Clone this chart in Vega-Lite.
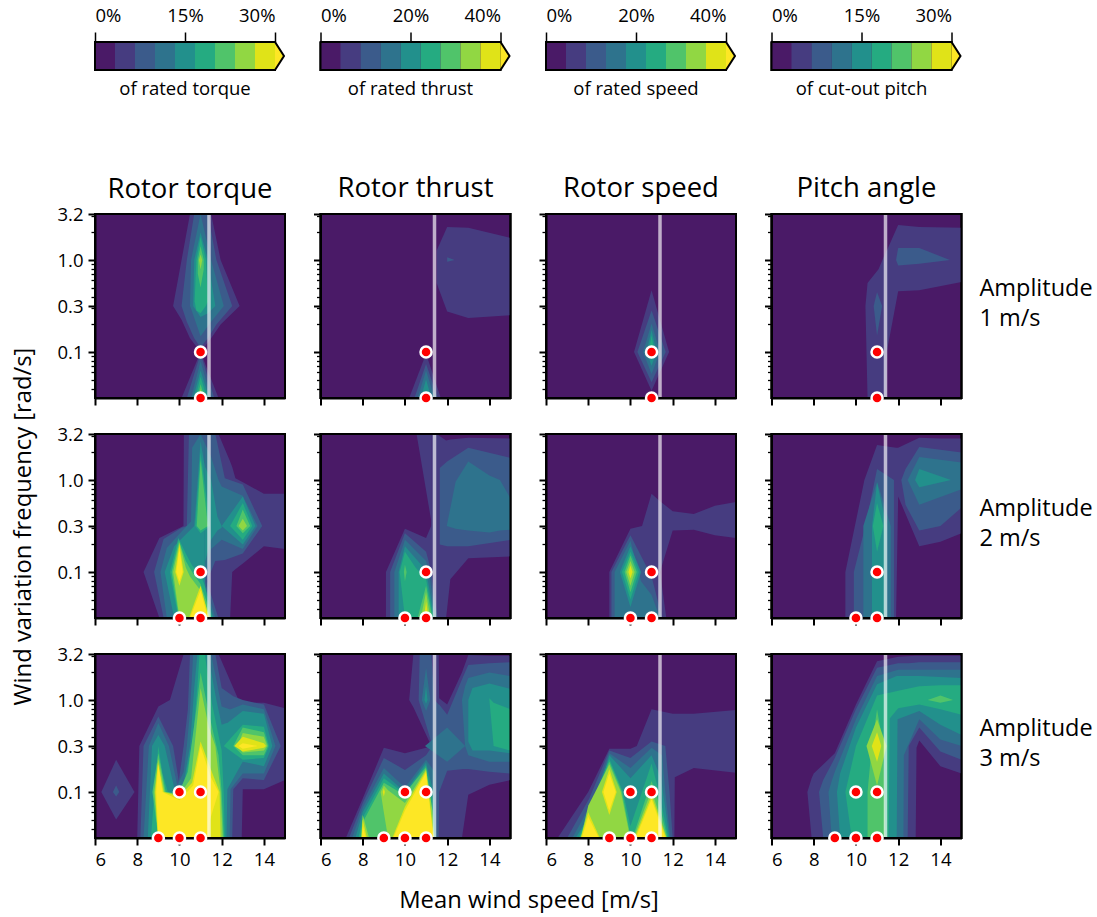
{"$schema":"https://vega.github.io/schema/vega-lite/v6.json","background":"white","padding":{"left":10,"top":5,"right":0,"bottom":0},"config":{"font":"Open Sans","view":{"fill":"#4a1a67","stroke":"black","strokeWidth":2},"axis":{"grid":false,"domainColor":"black","domainWidth":2,"tickColor":"black","labelColor":"black","labelFont":"Open Sans","labelFontSize":18.5,"labelPadding":5,"titleFont":"Open Sans","titleFontSize":23.8,"titleFontWeight":"normal","titleColor":"black"},"title":{"font":"Open Sans","fontSize":27.5,"fontWeight":"normal","color":"black","offset":10},"text":{"font":"Open Sans"}},
"datasets":{
"r":[{"x":11.4,"y":-1.5,"y2":0.5}],"f":[{"x":6,"x2":15,"y":-1.5,"y2":0.5}],
"a1":[{"x":15.85,"y":-0.315,"t":["Amplitude","1 m/s"]}],"a2":[{"x":15.85,"y":-0.315,"t":["Amplitude","2 m/s"]}],"a3":[{"x":15.85,"y":-0.315,"t":["Amplitude","3 m/s"]}],
"d1":[{"x":11,"y":-1},{"x":11,"y":-1.5}],
"d2":[{"x":11,"y":-1},{"x":10,"y":-1.5},{"x":11,"y":-1.5}],
"d3":[{"x":10,"y":-1},{"x":11,"y":-1},{"x":9,"y":-1.5},{"x":10,"y":-1.5},{"x":11,"y":-1.5}],
"cb":[{"l":0,"f":0,"g":1},{"l":1,"f":1,"g":2},{"l":2,"f":2,"g":3},{"l":3,"f":3,"g":4},{"l":4,"f":4,"g":5},{"l":5,"f":5,"g":6},{"l":6,"f":6,"g":7},{"l":7,"f":7,"g":8},{"l":8,"f":8,"g":9}],
"ct":[{"x":9,"y":0,"y2":1},{"x":9.45,"y":0.5,"y2":0.5}],
"co":[{"o":1,"x":0,"y":1},{"o":2,"x":9,"y":1},{"o":3,"x":9.45,"y":0.5},{"o":4,"x":9,"y":0},{"o":5,"x":0,"y":0},{"o":6,"x":0,"y":1}],
"P11":[{"l":1,"s":1,"x":9.7,"y":-0.5,"y2":-0.5},{"l":1,"s":1,"x":10.1,"y":-0.65,"y2":0},{"l":1,"s":1,"x":10.5,"y":-0.85,"y2":0.5},{"l":1,"s":1,"x":11,"y":-1,"y2":0.5},{"l":1,"s":1,"x":11.5,"y":-0.85,"y2":0.5},{"l":1,"s":1,"x":11.95,"y":-0.7,"y2":0},{"l":1,"s":1,"x":12.85,"y":-0.5,"y2":-0.5},
{"l":1,"s":2,"x":10.1,"y":-1.5,"y2":-1.5},{"l":1,"s":2,"x":11,"y":-1.5,"y2":-1},{"l":1,"s":2,"x":11.85,"y":-1.5,"y2":-1.5},
{"l":2,"s":1,"x":10.1,"y":-0.5,"y2":-0.5},{"l":2,"s":1,"x":10.35,"y":-0.67,"y2":0},{"l":2,"s":1,"x":10.7,"y":-0.85,"y2":0.5},{"l":2,"s":1,"x":11,"y":-0.95,"y2":0.5},{"l":2,"s":1,"x":11.35,"y":-0.85,"y2":0.5},{"l":2,"s":1,"x":11.75,"y":-0.7,"y2":0},{"l":2,"s":1,"x":12.5,"y":-0.5,"y2":-0.5},
{"l":2,"s":2,"x":10.35,"y":-1.5,"y2":-1.5},{"l":2,"s":2,"x":11,"y":-1.5,"y2":-1.02},{"l":2,"s":2,"x":11.65,"y":-1.5,"y2":-1.5},
{"l":3,"s":1,"x":10.5,"y":-0.5,"y2":-0.5},{"l":3,"s":1,"x":10.55,"y":-0.53,"y2":0},{"l":3,"s":1,"x":11,"y":-0.83,"y2":0.5},{"l":3,"s":1,"x":11.5,"y":-0.67,"y2":0},{"l":3,"s":1,"x":12.1,"y":-0.5,"y2":-0.5},
{"l":3,"s":2,"x":10.55,"y":-1.5,"y2":-1.5},{"l":3,"s":2,"x":11,"y":-1.5,"y2":-1.1},{"l":3,"s":2,"x":11.5,"y":-1.5,"y2":-1.5},
{"l":4,"s":1,"x":10.65,"y":-0.5,"y2":-0.5},{"l":4,"s":1,"x":10.7,"y":-0.52,"y2":0},{"l":4,"s":1,"x":11,"y":-0.62,"y2":0.3},{"l":4,"s":1,"x":11.35,"y":-0.58,"y2":0},{"l":4,"s":1,"x":11.7,"y":-0.5,"y2":-0.5},
{"l":4,"s":2,"x":10.65,"y":-1.5,"y2":-1.5},{"l":4,"s":2,"x":11,"y":-1.5,"y2":-1.2},{"l":4,"s":2,"x":11.4,"y":-1.5,"y2":-1.5},
{"l":5,"s":1,"x":10.72,"y":-0.45,"y2":-0.45},{"l":5,"s":1,"x":10.8,"y":-0.55,"y2":0},{"l":5,"s":1,"x":11,"y":-0.58,"y2":0.25},{"l":5,"s":1,"x":11.25,"y":-0.5,"y2":0},{"l":5,"s":1,"x":11.35,"y":-0.45,"y2":-0.45},
{"l":5,"s":2,"x":10.75,"y":-1.5,"y2":-1.5},{"l":5,"s":2,"x":11,"y":-1.5,"y2":-1.27},{"l":5,"s":2,"x":11.3,"y":-1.5,"y2":-1.5},
{"l":6,"s":1,"x":10.87,"y":-0.15,"y2":0},{"l":6,"s":1,"x":11,"y":-0.3,"y2":0.15},{"l":6,"s":1,"x":11.15,"y":-0.1,"y2":0},
{"l":6,"s":2,"x":10.85,"y":-1.5,"y2":-1.5},{"l":6,"s":2,"x":11,"y":-1.5,"y2":-1.35},{"l":6,"s":2,"x":11.2,"y":-1.5,"y2":-1.5},
{"l":7,"s":1,"x":10.92,"y":0,"y2":0},{"l":7,"s":1,"x":11,"y":-0.1,"y2":0.06},{"l":7,"s":1,"x":11.08,"y":0,"y2":0},
{"l":7,"s":2,"x":10.9,"y":-1.5,"y2":-1.5},{"l":7,"s":2,"x":11,"y":-1.5,"y2":-1.4},{"l":7,"s":2,"x":11.1,"y":-1.5,"y2":-1.5}],
"P12":[{"l":1,"s":1,"x":11.5,"y":-0.25,"y2":0.1},{"l":1,"s":1,"x":12,"y":-0.56,"y2":0.36},{"l":1,"s":1,"x":13,"y":-0.63,"y2":0.35},{"l":1,"s":1,"x":15,"y":-0.6,"y2":0.24},
{"l":1,"s":2,"x":10.2,"y":-1.5,"y2":-1.5},{"l":1,"s":2,"x":11,"y":-1.5,"y2":-1.02},{"l":1,"s":2,"x":11.7,"y":-1.5,"y2":-1.5},
{"l":2,"s":1,"x":12,"y":-0.02,"y2":0.03},{"l":2,"s":1,"x":12.35,"y":0,"y2":0},
{"l":2,"s":2,"x":10.45,"y":-1.5,"y2":-1.5},{"l":2,"s":2,"x":11,"y":-1.5,"y2":-1.13},{"l":2,"s":2,"x":11.55,"y":-1.5,"y2":-1.5},
{"l":3,"x":10.6,"y":-1.5,"y2":-1.5},{"l":3,"x":11,"y":-1.5,"y2":-1.2},{"l":3,"x":11.4,"y":-1.5,"y2":-1.5},
{"l":4,"x":10.75,"y":-1.5,"y2":-1.5},{"l":4,"x":11,"y":-1.5,"y2":-1.3},{"l":4,"x":11.25,"y":-1.5,"y2":-1.5},
{"l":5,"x":10.9,"y":-1.5,"y2":-1.5},{"l":5,"x":11,"y":-1.5,"y2":-1.42},{"l":5,"x":11.1,"y":-1.5,"y2":-1.5}],
"P13":[{"l":1,"x":10.17,"y":-1,"y2":-1},{"l":1,"x":11,"y":-1.42,"y2":-0.33},{"l":1,"x":11.83,"y":-1,"y2":-1},
{"l":2,"x":10.33,"y":-1,"y2":-1},{"l":2,"x":11,"y":-1.33,"y2":-0.55},{"l":2,"x":11.67,"y":-1,"y2":-1},
{"l":3,"x":10.6,"y":-1,"y2":-1},{"l":3,"x":11,"y":-1.24,"y2":-0.69},{"l":3,"x":11.4,"y":-1,"y2":-1},
{"l":4,"x":10.76,"y":-1,"y2":-1},{"l":4,"x":11,"y":-1.15,"y2":-0.76},{"l":4,"x":11.24,"y":-1,"y2":-1},
{"l":5,"x":10.87,"y":-1,"y2":-1},{"l":5,"x":11,"y":-1.07,"y2":-0.82},{"l":5,"x":11.13,"y":-1,"y2":-1}],
"P14":[{"l":1,"x":10.45,"y":-0.5,"y2":-0.5},{"l":1,"x":10.55,"y":-1.5,"y2":-0.25},{"l":1,"x":11.07,"y":-1.5,"y2":-0.1},{"l":1,"x":11.44,"y":-1.5,"y2":0.1},{"l":1,"x":11.46,"y":-1,"y2":0.1},{"l":1,"x":12,"y":-0.34,"y2":0.38},{"l":1,"x":13,"y":-0.33,"y2":0.36},{"l":1,"x":15,"y":-0.24,"y2":0.35},
{"l":2,"s":1,"x":10.84,"y":-0.5,"y2":-0.5},{"l":2,"s":1,"x":11,"y":-0.82,"y2":-0.35},{"l":2,"s":1,"x":11.24,"y":-0.5,"y2":-0.5},
{"l":2,"s":2,"x":11.9,"y":0,"y2":0},{"l":2,"s":2,"x":12,"y":-0.06,"y2":0.13},{"l":2,"s":2,"x":13,"y":-0.04,"y2":0.13},{"l":2,"s":2,"x":14.45,"y":0,"y2":0}],
"P21":[{"l":1,"x":8.3,"y":-1,"y2":-1},{"l":1,"x":9.05,"y":-1.5,"y2":-0.63},{"l":1,"x":10.19,"y":-1.5,"y2":-0.5},{"l":1,"x":10.21,"y":-1.5,"y2":0.5},{"l":1,"x":11.85,"y":-1.5,"y2":0.5},{"l":1,"x":12.4,"y":-1.5,"y2":0.2},{"l":1,"x":12.5,"y":-1,"y2":0.14},{"l":1,"x":12.65,"y":-0.97,"y2":0.02},{"l":1,"x":13.05,"y":-0.9,"y2":-0.03},{"l":1,"x":14,"y":-0.72,"y2":-0.15},{"l":1,"x":15,"y":-0.75,"y2":-0.15},
{"l":2,"s":1,"x":8.8,"y":-1,"y2":-1},{"l":2,"s":1,"x":9.25,"y":-1.5,"y2":-0.64},{"l":2,"s":1,"x":10.1,"y":-1.5,"y2":-0.52},{"l":2,"s":1,"x":10.35,"y":-1.5,"y2":-0.5},{"l":2,"s":1,"x":10.45,"y":-1.5,"y2":0.5},{"l":2,"s":1,"x":11.3,"y":-1.5,"y2":0.5},
{"l":2,"s":2,"x":11.3,"y":-1.5,"y2":-1.1},{"l":2,"s":2,"x":11.84,"y":-1.5,"y2":-1.5},
{"l":2,"s":3,"x":11.3,"y":-1.1,"y2":0.5},{"l":2,"s":3,"x":11.7,"y":-0.88,"y2":0.5},{"l":2,"s":3,"x":12.15,"y":-0.87,"y2":0.02},{"l":2,"s":3,"x":13,"y":-0.8,"y2":-0.05},{"l":2,"s":3,"x":13.92,"y":-0.5,"y2":-0.5},
{"l":3,"s":1,"x":9.1,"y":-1,"y2":-1},{"l":3,"s":1,"x":9.4,"y":-1.5,"y2":-0.74},{"l":3,"s":1,"x":10.1,"y":-1.5,"y2":-0.56},{"l":3,"s":1,"x":10.55,"y":-1.5,"y2":-0.45},{"l":3,"s":1,"x":10.6,"y":-1.5,"y2":0.35},{"l":3,"s":1,"x":11,"y":-1.5,"y2":0.5},{"l":3,"s":1,"x":11.2,"y":-1.5,"y2":0.4},
{"l":3,"s":2,"x":11.2,"y":-1.5,"y2":-1.1},{"l":3,"s":2,"x":11.7,"y":-1.5,"y2":-1.5},
{"l":3,"s":3,"x":11.2,"y":-1.1,"y2":0.4},{"l":3,"s":3,"x":11.5,"y":-0.75,"y2":0.25},{"l":3,"s":3,"x":11.85,"y":-0.68,"y2":0},{"l":3,"s":3,"x":12,"y":-0.65,"y2":-0.07},{"l":3,"s":3,"x":13,"y":-0.75,"y2":-0.17},{"l":3,"s":3,"x":13.7,"y":-0.5,"y2":-0.5},
{"l":4,"s":1,"x":9.3,"y":-1,"y2":-1},{"l":4,"s":1,"x":9.75,"y":-1.5,"y2":-0.72},{"l":4,"s":1,"x":10,"y":-1.5,"y2":-0.66},{"l":4,"s":1,"x":10.7,"y":-1.5,"y2":-0.5},{"l":4,"s":1,"x":10.8,"y":-1.5,"y2":-0.2},{"l":4,"s":1,"x":11,"y":-1.5,"y2":0.42},{"l":4,"s":1,"x":11.2,"y":-1.5,"y2":0.15},
{"l":4,"s":2,"x":11.2,"y":-1.5,"y2":-1.15},{"l":4,"s":2,"x":11.6,"y":-1.5,"y2":-1.5},
{"l":4,"s":3,"x":11.2,"y":-0.9,"y2":0.15},{"l":4,"s":3,"x":11.5,"y":-0.65,"y2":0},{"l":4,"s":3,"x":11.8,"y":-0.55,"y2":-0.4},{"l":4,"s":3,"x":12,"y":-0.52,"y2":-0.5},
{"l":4,"s":4,"x":12,"y":-0.5,"y2":-0.5},{"l":4,"s":4,"x":13,"y":-0.7,"y2":-0.18},{"l":4,"s":4,"x":13.6,"y":-0.5,"y2":-0.5},
{"l":5,"s":1,"x":9.55,"y":-1,"y2":-1},{"l":5,"s":1,"x":9.95,"y":-1.5,"y2":-0.63},{"l":5,"s":1,"x":10.3,"y":-1.5,"y2":-0.8},{"l":5,"s":1,"x":10.6,"y":-1.5,"y2":-0.93},{"l":5,"s":1,"x":11,"y":-1.5,"y2":-1.03},{"l":5,"s":1,"x":11.2,"y":-1.5,"y2":-1.15},{"l":5,"s":1,"x":11.55,"y":-1.5,"y2":-1.5},
{"l":5,"s":2,"x":10.75,"y":-0.5,"y2":-0.5},{"l":5,"s":2,"x":11,"y":-0.58,"y2":0.3},{"l":5,"s":2,"x":11.45,"y":-0.5,"y2":-0.5},
{"l":5,"s":3,"x":12.4,"y":-0.5,"y2":-0.5},{"l":5,"s":3,"x":13,"y":-0.65,"y2":-0.25},{"l":5,"s":3,"x":13.45,"y":-0.5,"y2":-0.5},
{"l":6,"s":1,"x":9.63,"y":-1,"y2":-1},{"l":6,"s":1,"x":9.98,"y":-1.5,"y2":-0.66},{"l":6,"s":1,"x":10.3,"y":-1.5,"y2":-0.88},{"l":6,"s":1,"x":10.6,"y":-1.5,"y2":-1},{"l":6,"s":1,"x":11,"y":-1.5,"y2":-1.13},{"l":6,"s":1,"x":11.3,"y":-1.5,"y2":-1.33},{"l":6,"s":1,"x":11.5,"y":-1.5,"y2":-1.5},
{"l":6,"s":2,"x":10.82,"y":-0.5,"y2":-0.5},{"l":6,"s":2,"x":11,"y":-0.55,"y2":0.22},{"l":6,"s":2,"x":11.35,"y":-0.5,"y2":-0.5},
{"l":6,"s":3,"x":12.7,"y":-0.5,"y2":-0.5},{"l":6,"s":3,"x":13,"y":-0.58,"y2":-0.32},{"l":6,"s":3,"x":13.35,"y":-0.5,"y2":-0.5},
{"l":7,"s":1,"x":9.7,"y":-1,"y2":-1},{"l":7,"s":1,"x":10,"y":-1.5,"y2":-0.68},{"l":7,"s":1,"x":10.3,"y":-1.5,"y2":-0.95},{"l":7,"s":1,"x":10.5,"y":-1.5,"y2":-1.05},{"l":7,"s":1,"x":11,"y":-1.5,"y2":-1.2},{"l":7,"s":1,"x":11.3,"y":-1.5,"y2":-1.4},{"l":7,"s":1,"x":11.45,"y":-1.5,"y2":-1.5},
{"l":7,"s":3,"x":12.8,"y":-0.5,"y2":-0.5},{"l":7,"s":3,"x":13,"y":-0.55,"y2":-0.42},{"l":7,"s":3,"x":13.2,"y":-0.5,"y2":-0.5},
{"l":8,"s":1,"x":9.8,"y":-1,"y2":-1},{"l":8,"s":1,"x":10,"y":-1.15,"y2":-0.7},{"l":8,"s":1,"x":10.2,"y":-1,"y2":-1},
{"l":8,"s":2,"x":10.45,"y":-1.5,"y2":-1.5},{"l":8,"s":2,"x":11,"y":-1.5,"y2":-1.15},{"l":8,"s":2,"x":11.4,"y":-1.5,"y2":-1.5},
{"l":9,"s":1,"x":9.85,"y":-1,"y2":-1},{"l":9,"s":1,"x":10,"y":-1.1,"y2":-0.75},{"l":9,"s":1,"x":10.15,"y":-1,"y2":-1},
{"l":9,"s":2,"x":10.5,"y":-1.5,"y2":-1.5},{"l":9,"s":2,"x":11,"y":-1.5,"y2":-1.2},{"l":9,"s":2,"x":11.35,"y":-1.5,"y2":-1.5}],
"P22":[{"l":1,"s":1,"x":10.55,"y":0.5,"y2":0.5},{"l":1,"s":1,"x":11.25,"y":-0.45,"y2":0.5},
{"l":1,"s":2,"x":9.1,"y":-1.5,"y2":-1},{"l":1,"s":2,"x":10,"y":-1.5,"y2":-0.53},{"l":1,"s":2,"x":11,"y":-1.5,"y2":-0.63},{"l":1,"s":2,"x":11.24,"y":-1.5,"y2":-0.5},{"l":1,"s":2,"x":11.25,"y":-1.5,"y2":0.5},{"l":1,"s":2,"x":11.5,"y":-1.5,"y2":0.5},{"l":1,"s":2,"x":11.95,"y":-1.5,"y2":0.43},{"l":1,"s":2,"x":12.15,"y":-1.08,"y2":0.44},{"l":1,"s":2,"x":13,"y":-0.85,"y2":0.46},{"l":1,"s":2,"x":15,"y":-0.83,"y2":0.45},
{"l":2,"s":1,"x":11.65,"y":-0.7,"y2":0.13},{"l":2,"s":1,"x":12,"y":-0.72,"y2":0.2},{"l":2,"s":1,"x":13,"y":-0.72,"y2":0.35},{"l":2,"s":1,"x":15,"y":-0.65,"y2":0.24},
{"l":2,"s":2,"x":9.3,"y":-1.5,"y2":-1},{"l":2,"s":2,"x":10,"y":-1.5,"y2":-0.58},{"l":2,"s":2,"x":11,"y":-1.5,"y2":-0.78},{"l":2,"s":2,"x":11.2,"y":-1.5,"y2":-0.95},{"l":2,"s":2,"x":11.55,"y":-1.5,"y2":-1.5},
{"l":3,"s":1,"x":11.98,"y":-0.5,"y2":-0.5},{"l":3,"s":1,"x":12.4,"y":-0.53,"y2":-0.02},{"l":3,"s":1,"x":13,"y":-0.55,"y2":0.2},{"l":3,"s":1,"x":14,"y":-0.57,"y2":0.05},{"l":3,"s":1,"x":14.5,"y":-0.55,"y2":0},{"l":3,"s":1,"x":15,"y":-0.54,"y2":-0.2},
{"l":3,"s":2,"x":9.5,"y":-1.5,"y2":-1},{"l":3,"s":2,"x":10,"y":-1.5,"y2":-0.65},{"l":3,"s":2,"x":11,"y":-1.5,"y2":-0.88},{"l":3,"s":2,"x":11.15,"y":-1.5,"y2":-1.02},{"l":3,"s":2,"x":11.45,"y":-1.5,"y2":-1.5},
{"l":4,"x":9.7,"y":-1.5,"y2":-1},{"l":4,"x":10,"y":-1.5,"y2":-0.72},{"l":4,"x":11,"y":-1.5,"y2":-0.98},{"l":4,"x":11.4,"y":-1.5,"y2":-1.5},
{"l":5,"x":9.75,"y":-1,"y2":-1},{"l":5,"x":10,"y":-1.5,"y2":-0.78},{"l":5,"x":10.5,"y":-1.5,"y2":-0.95},{"l":5,"x":11,"y":-1.5,"y2":-1.08},{"l":5,"x":11.35,"y":-1.5,"y2":-1.5},
{"l":6,"s":1,"x":9.95,"y":-1,"y2":-1},{"l":6,"s":1,"x":10,"y":-1.1,"y2":-0.92},{"l":6,"s":1,"x":10.08,"y":-1,"y2":-1},
{"l":6,"s":2,"x":10.6,"y":-1.5,"y2":-1.5},{"l":6,"s":2,"x":11,"y":-1.5,"y2":-1.15},{"l":6,"s":2,"x":11.3,"y":-1.5,"y2":-1.5},
{"l":7,"x":10.75,"y":-1.5,"y2":-1.5},{"l":7,"x":11,"y":-1.5,"y2":-1.22},{"l":7,"x":11.2,"y":-1.5,"y2":-1.5},
{"l":8,"x":10.9,"y":-1.5,"y2":-1.5},{"l":8,"x":11,"y":-1.5,"y2":-1.32},{"l":8,"x":11.12,"y":-1.5,"y2":-1.5}],
"P23":[{"l":1,"s":1,"x":9,"y":-1.5,"y2":-1},{"l":1,"s":1,"x":10,"y":-1.5,"y2":-0.53},{"l":1,"s":1,"x":10.55,"y":-1.5,"y2":-0.5},{"l":1,"s":1,"x":11,"y":-1.5,"y2":-0.15},{"l":1,"s":1,"x":11.4,"y":-1.5,"y2":-0.23},
{"l":1,"s":2,"x":11.4,"y":-1.5,"y2":-1},{"l":1,"s":2,"x":11.7,"y":-1.5,"y2":-1.5},
{"l":1,"s":3,"x":11.4,"y":-1,"y2":-0.23},{"l":1,"s":3,"x":12,"y":-0.55,"y2":-0.34},{"l":1,"s":3,"x":13,"y":-0.54,"y2":-0.37},{"l":1,"s":3,"x":14,"y":-0.6,"y2":-0.28},{"l":1,"s":3,"x":15,"y":-0.63,"y2":-0.24},
{"l":2,"x":9.1,"y":-1.5,"y2":-1},{"l":2,"x":10,"y":-1.5,"y2":-0.6},{"l":2,"x":11,"y":-1.5,"y2":-1.05},{"l":2,"x":11.5,"y":-1.5,"y2":-1.5},
{"l":3,"x":9.25,"y":-1.5,"y2":-1},{"l":3,"x":10,"y":-1.5,"y2":-0.66},{"l":3,"x":10.5,"y":-1.5,"y2":-1.1},{"l":3,"x":11,"y":-1.5,"y2":-1.25},{"l":3,"x":11.4,"y":-1.5,"y2":-1.5},
{"l":4,"x":9.5,"y":-1,"y2":-1},{"l":4,"x":10,"y":-1.38,"y2":-0.72},{"l":4,"x":10.5,"y":-1,"y2":-1},
{"l":5,"x":9.6,"y":-1,"y2":-1},{"l":5,"x":10,"y":-1.3,"y2":-0.78},{"l":5,"x":10.4,"y":-1,"y2":-1},
{"l":6,"x":9.72,"y":-1,"y2":-1},{"l":6,"x":10,"y":-1.22,"y2":-0.82},{"l":6,"x":10.3,"y":-1,"y2":-1},
{"l":7,"x":9.8,"y":-1,"y2":-1},{"l":7,"x":10,"y":-1.15,"y2":-0.88},{"l":7,"x":10.2,"y":-1,"y2":-1},
{"l":8,"x":9.9,"y":-1,"y2":-1},{"l":8,"x":10,"y":-1.07,"y2":-0.93},{"l":8,"x":10.1,"y":-1,"y2":-1}],
"P24":[{"l":1,"x":9.5,"y":-1.5,"y2":-1},{"l":1,"x":10.4,"y":-1.5,"y2":0},{"l":1,"x":11,"y":-1.5,"y2":0.38},{"l":1,"x":11.9,"y":-1.5,"y2":0.35},{"l":1,"x":12,"y":-0.18,"y2":0.35},{"l":1,"x":13,"y":-0.72,"y2":0.46},{"l":1,"x":14,"y":-0.67,"y2":0.45},{"l":1,"x":15,"y":-0.58,"y2":0.45},
{"l":2,"s":1,"x":9.9,"y":-1.5,"y2":-1},{"l":2,"s":1,"x":10.45,"y":-1.5,"y2":-0.5},{"l":2,"s":1,"x":11,"y":-1.5,"y2":0.12},{"l":2,"s":1,"x":11.8,"y":-1.5,"y2":0},
{"l":2,"s":2,"x":12.15,"y":0,"y2":0},{"l":2,"s":2,"x":12.35,"y":-0.27,"y2":0.12},{"l":2,"s":2,"x":13,"y":-0.55,"y2":0.36},{"l":2,"s":2,"x":14,"y":-0.5,"y2":0.33},{"l":2,"s":2,"x":15,"y":-0.3,"y2":0.3},
{"l":3,"s":1,"x":10.35,"y":-1.5,"y2":-0.5},{"l":3,"s":1,"x":11,"y":-1.5,"y2":-0.02},{"l":3,"s":1,"x":11.65,"y":-1.5,"y2":-0.5},
{"l":3,"s":2,"x":12.45,"y":0,"y2":0},{"l":3,"s":2,"x":13,"y":-0.27,"y2":0.25},{"l":3,"s":2,"x":15,"y":-0.1,"y2":0.19},
{"l":4,"s":1,"x":10.76,"y":-1.5,"y2":-0.5},{"l":4,"s":1,"x":11,"y":-1.5,"y2":-0.03},{"l":4,"s":1,"x":11.45,"y":-1.5,"y2":-0.5},
{"l":4,"s":2,"x":12.8,"y":0,"y2":0},{"l":4,"s":2,"x":13,"y":-0.08,"y2":0.12},{"l":4,"s":2,"x":14.5,"y":0,"y2":0},
{"l":5,"x":10.8,"y":-0.5,"y2":-0.5},{"l":5,"x":11,"y":-0.78,"y2":-0.25},{"l":5,"x":11.3,"y":-0.5,"y2":-0.5}],
"P31":[{"l":1,"s":1,"x":6.3,"y":-1,"y2":-1},{"l":1,"s":1,"x":7,"y":-1.3,"y2":-0.65},{"l":1,"s":1,"x":7.87,"y":-1,"y2":-1},
{"l":1,"s":2,"x":8,"y":-1.5,"y2":-1.5},{"l":1,"s":2,"x":8.1,"y":-1.5,"y2":-0.5},{"l":1,"s":2,"x":9,"y":-1.5,"y2":-0.07},{"l":1,"s":2,"x":9.55,"y":-1.5,"y2":0},{"l":1,"s":2,"x":10.2,"y":-1.5,"y2":0.5},{"l":1,"s":2,"x":11.85,"y":-1.5,"y2":0.5},{"l":1,"s":2,"x":12.8,"y":-1.5,"y2":0},{"l":1,"s":2,"x":12.95,"y":-1.5,"y2":-0.02},{"l":1,"s":2,"x":13,"y":-0.97,"y2":-0.03},{"l":1,"s":2,"x":14,"y":-0.97,"y2":-0.03},{"l":1,"s":2,"x":15,"y":-0.87,"y2":-0.09},
{"l":2,"s":1,"x":6.85,"y":-1,"y2":-1},{"l":2,"s":1,"x":7,"y":-1.05,"y2":-0.93},{"l":2,"s":1,"x":7.15,"y":-1,"y2":-1},
{"l":2,"s":2,"x":8.15,"y":-1.5,"y2":-1.5},{"l":2,"s":2,"x":8.3,"y":-1.5,"y2":-0.5},{"l":2,"s":2,"x":9,"y":-1.5,"y2":-0.18},{"l":2,"s":2,"x":9.7,"y":-1.5,"y2":-0.5},{"l":2,"s":2,"x":9.97,"y":-1.5,"y2":-0.88},{"l":2,"s":2,"x":10.2,"y":-1.5,"y2":-0.5},{"l":2,"s":2,"x":10.4,"y":-1.5,"y2":-0.1},{"l":2,"s":2,"x":10.5,"y":-1.5,"y2":0.5},{"l":2,"s":2,"x":11.7,"y":-1.5,"y2":0.5},{"l":2,"s":2,"x":12,"y":-1.5,"y2":0.13},{"l":2,"s":2,"x":12.5,"y":-1.5,"y2":0.05},{"l":2,"s":2,"x":12.55,"y":-0.97,"y2":0.04},{"l":2,"s":2,"x":13,"y":-0.85,"y2":0},{"l":2,"s":2,"x":14,"y":-0.87,"y2":-0.05},{"l":2,"s":2,"x":14.8,"y":-0.5,"y2":-0.5},
{"l":3,"x":8.3,"y":-1.5,"y2":-1.5},{"l":3,"x":8.55,"y":-1.5,"y2":-0.5},{"l":3,"x":9,"y":-1.5,"y2":-0.25},{"l":3,"x":9.5,"y":-1.5,"y2":-0.5},{"l":3,"x":9.9,"y":-1.5,"y2":-0.93},{"l":3,"x":10.2,"y":-1.5,"y2":-0.78},{"l":3,"x":10.35,"y":-1.5,"y2":-0.5},{"l":3,"x":10.5,"y":-1.5,"y2":-0.12},{"l":3,"x":10.65,"y":-1.5,"y2":0.5},{"l":3,"x":11.5,"y":-1.5,"y2":0.5},{"l":3,"x":12,"y":-1.5,"y2":-0.07},{"l":3,"x":12.38,"y":-1.5,"y2":-0.1},{"l":3,"x":12.42,"y":-0.97,"y2":-0.1},{"l":3,"x":13,"y":-0.8,"y2":-0.05},{"l":3,"x":14,"y":-0.8,"y2":-0.1},{"l":3,"x":14.55,"y":-0.5,"y2":-0.5},
{"l":4,"x":8.5,"y":-1.5,"y2":-1.5},{"l":4,"x":8.7,"y":-1.5,"y2":-0.5},{"l":4,"x":9,"y":-1.5,"y2":-0.38},{"l":4,"x":9.3,"y":-1.5,"y2":-0.5},{"l":4,"x":9.8,"y":-1.5,"y2":-1},{"l":4,"x":10.2,"y":-1.5,"y2":-0.9},{"l":4,"x":10.5,"y":-1.5,"y2":-0.5},{"l":4,"x":10.7,"y":-1.5,"y2":0.13},{"l":4,"x":10.85,"y":-1.5,"y2":0.5},{"l":4,"x":11.35,"y":-1.5,"y2":0.5},{"l":4,"x":11.75,"y":-1.5,"y2":0},{"l":4,"x":12,"y":-1.5,"y2":-0.27},{"l":4,"x":12.23,"y":-1.5,"y2":-0.25},{"l":4,"x":12.27,"y":-0.97,"y2":-0.25},{"l":4,"x":13,"y":-0.67,"y2":-0.12},{"l":4,"x":14,"y":-0.72,"y2":-0.15},{"l":4,"x":14.4,"y":-0.5,"y2":-0.5},
{"l":5,"s":1,"x":8.65,"y":-1.5,"y2":-1.5},{"l":5,"s":1,"x":8.85,"y":-1.5,"y2":-0.9},{"l":5,"s":1,"x":9,"y":-1.5,"y2":-0.5},{"l":5,"s":1,"x":9.2,"y":-1.5,"y2":-0.8},{"l":5,"s":1,"x":9.45,"y":-1.5,"y2":-1},{"l":5,"s":1,"x":9.85,"y":-1.5,"y2":-1.02},{"l":5,"s":1,"x":10.2,"y":-1.5,"y2":-0.96},{"l":5,"s":1,"x":10.45,"y":-1.5,"y2":-0.65},{"l":5,"s":1,"x":10.65,"y":-1.5,"y2":-0.4},{"l":5,"s":1,"x":10.85,"y":-1.5,"y2":0.15},{"l":5,"s":1,"x":10.95,"y":-1.5,"y2":0.5},{"l":5,"s":1,"x":11.2,"y":-1.5,"y2":0.5},{"l":5,"s":1,"x":11.55,"y":-1.5,"y2":-0.05},{"l":5,"s":1,"x":12,"y":-1.5,"y2":-0.55},{"l":5,"s":1,"x":12.1,"y":-1.5,"y2":-1.02},{"l":5,"s":1,"x":12.15,"y":-1.5,"y2":-1.5},
{"l":5,"s":2,"x":12.1,"y":-0.5,"y2":-0.5},{"l":5,"s":2,"x":13,"y":-0.65,"y2":-0.27},{"l":5,"s":2,"x":14,"y":-0.63,"y2":-0.29},{"l":5,"s":2,"x":14.25,"y":-0.5,"y2":-0.5},
{"l":6,"s":1,"x":8.72,"y":-1,"y2":-1},{"l":6,"s":1,"x":9,"y":-1.5,"y2":-0.58},{"l":6,"s":1,"x":9.35,"y":-1.5,"y2":-1},{"l":6,"s":1,"x":9.95,"y":-1.5,"y2":-1.02},{"l":6,"s":1,"x":10.4,"y":-1.5,"y2":-0.78},{"l":6,"s":1,"x":10.8,"y":-1.5,"y2":-0.1},{"l":6,"s":1,"x":11,"y":-1.5,"y2":0.3},{"l":6,"s":1,"x":11.35,"y":-1.5,"y2":-0.1},{"l":6,"s":1,"x":11.85,"y":-1.5,"y2":-0.6},{"l":6,"s":1,"x":12,"y":-1.5,"y2":-1},{"l":6,"s":1,"x":12.1,"y":-1.5,"y2":-1.5},
{"l":6,"s":2,"x":12.55,"y":-0.5,"y2":-0.5},{"l":6,"s":2,"x":13,"y":-0.6,"y2":-0.3},{"l":6,"s":2,"x":14,"y":-0.6,"y2":-0.35},{"l":6,"s":2,"x":14.2,"y":-0.5,"y2":-0.5},
{"l":7,"s":1,"x":8.8,"y":-1,"y2":-1},{"l":7,"s":1,"x":9,"y":-1.5,"y2":-0.64},{"l":7,"s":1,"x":9.3,"y":-1.5,"y2":-1},{"l":7,"s":1,"x":10,"y":-1.5,"y2":-1.03},{"l":7,"s":1,"x":10.55,"y":-1.5,"y2":-0.85},{"l":7,"s":1,"x":10.85,"y":-1.5,"y2":-0.2},{"l":7,"s":1,"x":11,"y":-1.5,"y2":0.13},{"l":7,"s":1,"x":11.4,"y":-1.5,"y2":-0.3},{"l":7,"s":1,"x":11.7,"y":-1.5,"y2":-0.5},{"l":7,"s":1,"x":11.95,"y":-1.5,"y2":-1},{"l":7,"s":1,"x":12.05,"y":-1.5,"y2":-1.5},
{"l":7,"s":2,"x":12.75,"y":-0.5,"y2":-0.5},{"l":7,"s":2,"x":13,"y":-0.57,"y2":-0.36},{"l":7,"s":2,"x":14,"y":-0.55,"y2":-0.4},{"l":7,"s":2,"x":14.15,"y":-0.5,"y2":-0.5},
{"l":8,"s":1,"x":8.85,"y":-1,"y2":-1},{"l":8,"s":1,"x":8.98,"y":-1.5,"y2":-0.68},{"l":8,"s":1,"x":9.25,"y":-1.5,"y2":-1},{"l":8,"s":1,"x":10,"y":-1.5,"y2":-1.05},{"l":8,"s":1,"x":10.6,"y":-1.5,"y2":-0.9},{"l":8,"s":1,"x":11,"y":-1.5,"y2":-0.45},{"l":8,"s":1,"x":11.4,"y":-1.5,"y2":-0.7},{"l":8,"s":1,"x":11.9,"y":-1.5,"y2":-1},{"l":8,"s":1,"x":11.95,"y":-1.5,"y2":-1.5},
{"l":8,"s":2,"x":12.6,"y":-0.5,"y2":-0.5},{"l":8,"s":2,"x":13,"y":-0.56,"y2":-0.4},{"l":8,"s":2,"x":14,"y":-0.52,"y2":-0.47},{"l":8,"s":2,"x":14.1,"y":-0.5,"y2":-0.5},
{"l":9,"s":1,"x":8.9,"y":-1,"y2":-1},{"l":9,"s":1,"x":9,"y":-1.5,"y2":-0.7},{"l":9,"s":1,"x":9.2,"y":-1.5,"y2":-1},{"l":9,"s":1,"x":10,"y":-1.5,"y2":-1.09},{"l":9,"s":1,"x":10.65,"y":-1.5,"y2":-0.93},{"l":9,"s":1,"x":11,"y":-1.5,"y2":-0.5},{"l":9,"s":1,"x":11.4,"y":-1.5,"y2":-0.78},{"l":9,"s":1,"x":11.45,"y":-1.3,"y2":-0.82},{"l":9,"s":1,"x":11.85,"y":-1,"y2":-1},
{"l":9,"s":2,"x":12.8,"y":-0.5,"y2":-0.5},{"l":9,"s":2,"x":13,"y":-0.53,"y2":-0.47},{"l":9,"s":2,"x":13.7,"y":-0.5,"y2":-0.5}],
"P32":[{"l":1,"s":1,"x":10.2,"y":0,"y2":0},{"l":1,"s":1,"x":10.4,"y":-0.08,"y2":0.5},{"l":1,"s":1,"x":11.25,"y":-0.5,"y2":0.5},
{"l":1,"s":2,"x":7.2,"y":-1.5,"y2":-1.5},{"l":1,"s":2,"x":8,"y":-1.5,"y2":-1.07},{"l":1,"s":2,"x":9,"y":-1.5,"y2":-0.52},{"l":1,"s":2,"x":10,"y":-1.5,"y2":-0.58},{"l":1,"s":2,"x":11,"y":-1.5,"y2":-0.52},{"l":1,"s":2,"x":11.24,"y":-1.5,"y2":-0.5},{"l":1,"s":2,"x":11.25,"y":-1.5,"y2":0.5},{"l":1,"s":2,"x":11.6,"y":-1.5,"y2":0.5},{"l":1,"s":2,"x":11.62,"y":-1.5,"y2":0.02},{"l":1,"s":2,"x":12,"y":-1.5,"y2":-0.05},{"l":1,"s":2,"x":12.7,"y":-1.5,"y2":0.3},{"l":1,"s":2,"x":13,"y":-1.03,"y2":0.49},{"l":1,"s":2,"x":14,"y":-0.92,"y2":0.48},{"l":1,"s":2,"x":15,"y":-0.87,"y2":0.48},
{"l":2,"s":1,"x":10.65,"y":0,"y2":0},{"l":2,"s":1,"x":10.7,"y":-0.04,"y2":0.5},{"l":2,"s":1,"x":11.25,"y":-0.46,"y2":0.5},{"l":2,"s":1,"x":11.4,"y":-0.5,"y2":0},
{"l":2,"s":2,"x":7.35,"y":-1.5,"y2":-1.5},{"l":2,"s":2,"x":8,"y":-1.5,"y2":-1.12},{"l":2,"s":2,"x":9,"y":-1.5,"y2":-0.63},{"l":2,"s":2,"x":10,"y":-1.5,"y2":-0.76},{"l":2,"s":2,"x":11,"y":-1.5,"y2":-0.6},{"l":2,"s":2,"x":11.3,"y":-1.5,"y2":-0.5},{"l":2,"s":2,"x":11.4,"y":-1.5,"y2":0},{"l":2,"s":2,"x":11.6,"y":-1.5,"y2":-0.05},{"l":2,"s":2,"x":11.62,"y":-1,"y2":-0.05},{"l":2,"s":2,"x":12,"y":-0.77,"y2":-0.16},{"l":2,"s":2,"x":12.75,"y":-0.75,"y2":0.25},{"l":2,"s":2,"x":13,"y":-0.75,"y2":0.38},{"l":2,"s":2,"x":14,"y":-0.78,"y2":0.4},{"l":2,"s":2,"x":15,"y":-0.8,"y2":0.41},
{"l":3,"s":1,"x":7.5,"y":-1.5,"y2":-1.5},{"l":3,"s":1,"x":8,"y":-1.5,"y2":-1.17},{"l":3,"s":1,"x":9,"y":-1.5,"y2":-0.74},{"l":3,"s":1,"x":10,"y":-1.5,"y2":-0.95},{"l":3,"s":1,"x":11,"y":-1.5,"y2":-0.65},{"l":3,"s":1,"x":11.4,"y":-1.5,"y2":-0.78},{"l":3,"s":1,"x":11.5,"y":-1.5,"y2":-1.5},
{"l":3,"s":2,"x":10.95,"y":-0.5,"y2":-0.5},{"l":3,"s":2,"x":12,"y":-0.67,"y2":-0.3},{"l":3,"s":2,"x":12.85,"y":-0.5,"y2":-0.5},
{"l":3,"s":3,"x":12.7,"y":0,"y2":0},{"l":3,"s":3,"x":12.85,"y":-0.5,"y2":0.15},{"l":3,"s":3,"x":13,"y":-0.6,"y2":0.24},{"l":3,"s":3,"x":14,"y":-0.67,"y2":0.3},{"l":3,"s":3,"x":15,"y":-0.67,"y2":0.26},
{"l":3,"s":4,"x":10.8,"y":0,"y2":0},{"l":3,"s":4,"x":11,"y":-0.12,"y2":0.35},{"l":3,"s":4,"x":11.2,"y":0,"y2":0},
{"l":4,"s":1,"x":7.65,"y":-1.5,"y2":-1.5},{"l":4,"s":1,"x":8,"y":-1.5,"y2":-1.22},{"l":4,"s":1,"x":9,"y":-1.5,"y2":-0.8},{"l":4,"s":1,"x":10,"y":-1.5,"y2":-1},{"l":4,"s":1,"x":11,"y":-1.5,"y2":-0.68},{"l":4,"s":1,"x":11.35,"y":-1.5,"y2":-1},{"l":4,"s":1,"x":11.45,"y":-1.5,"y2":-1.5},
{"l":4,"s":2,"x":13,"y":-0.45,"y2":0},{"l":4,"s":2,"x":13.2,"y":-0.55,"y2":0.13},{"l":4,"s":2,"x":14,"y":-0.55,"y2":0.18},{"l":4,"s":2,"x":15,"y":-0.58,"y2":0.12},
{"l":4,"s":3,"x":10.92,"y":0,"y2":0},{"l":4,"s":3,"x":11,"y":-0.04,"y2":0.15},{"l":4,"s":3,"x":11.07,"y":0,"y2":0},
{"l":5,"s":1,"x":7.8,"y":-1.5,"y2":-1.5},{"l":5,"s":1,"x":8,"y":-1.5,"y2":-1.28},{"l":5,"s":1,"x":9,"y":-1.5,"y2":-0.85},{"l":5,"s":1,"x":10,"y":-1.5,"y2":-1.02},{"l":5,"s":1,"x":11,"y":-1.5,"y2":-0.71},{"l":5,"s":1,"x":11.3,"y":-1.5,"y2":-1.1},{"l":5,"s":1,"x":11.42,"y":-1.5,"y2":-1.5},
{"l":5,"s":2,"x":14,"y":0,"y2":0.02},{"l":5,"s":2,"x":14.2,"y":-0.5,"y2":-0.03},{"l":5,"s":2,"x":15,"y":-0.55,"y2":-0.1},
{"l":6,"x":7.9,"y":-1.5,"y2":-1.5},{"l":6,"x":8,"y":-1.5,"y2":-1.33},{"l":6,"x":9,"y":-1.5,"y2":-0.9},{"l":6,"x":9.95,"y":-1.5,"y2":-1.03},{"l":6,"x":11,"y":-1.5,"y2":-0.73},{"l":6,"x":11.38,"y":-1.5,"y2":-1.5},
{"l":7,"s":1,"x":8.85,"y":-1,"y2":-1},{"l":7,"s":1,"x":9,"y":-1.22,"y2":-0.93},{"l":7,"s":1,"x":9.2,"y":-1.5,"y2":-0.98},{"l":7,"s":1,"x":10,"y":-1.5,"y2":-1.12},{"l":7,"s":1,"x":11,"y":-1.5,"y2":-0.75},{"l":7,"s":1,"x":11.3,"y":-1.5,"y2":-1.2},{"l":7,"s":1,"x":11.38,"y":-1.5,"y2":-1.5},
{"l":7,"s":2,"x":7.93,"y":-1.5,"y2":-1.5},{"l":7,"s":2,"x":8,"y":-1.5,"y2":-1.25},{"l":7,"s":2,"x":8.3,"y":-1.5,"y2":-1.5},
{"l":8,"s":1,"x":9.4,"y":-1.5,"y2":-1.5},{"l":8,"s":1,"x":10,"y":-1.5,"y2":-1.16},{"l":8,"s":1,"x":11,"y":-1.5,"y2":-0.77},{"l":8,"s":1,"x":11.37,"y":-1.5,"y2":-1.5},
{"l":8,"s":2,"x":8.95,"y":-1,"y2":-1},{"l":8,"s":2,"x":9,"y":-1.05,"y2":-0.96},{"l":8,"s":2,"x":9.05,"y":-1,"y2":-1},
{"l":8,"s":3,"x":7.95,"y":-1.5,"y2":-1.5},{"l":8,"s":3,"x":8,"y":-1.5,"y2":-1.3},{"l":8,"s":3,"x":8.2,"y":-1.5,"y2":-1.5},
{"l":9,"s":1,"x":9.45,"y":-1.5,"y2":-1.5},{"l":9,"s":1,"x":10,"y":-1.5,"y2":-1.2},{"l":9,"s":1,"x":11,"y":-1.5,"y2":-0.79},{"l":9,"s":1,"x":11.35,"y":-1.5,"y2":-1.5},
{"l":9,"s":3,"x":7.97,"y":-1.5,"y2":-1.5},{"l":9,"s":3,"x":8,"y":-1.5,"y2":-1.37},{"l":9,"s":3,"x":8.15,"y":-1.5,"y2":-1.5}],
"P33":[{"l":1,"x":6.55,"y":-1.5,"y2":-1.5},{"l":1,"x":8,"y":-1.5,"y2":-1},{"l":1,"x":9,"y":-1.5,"y2":-0.53},{"l":1,"x":10,"y":-1.5,"y2":-0.53},{"l":1,"x":10.3,"y":-1.5,"y2":-0.5},{"l":1,"x":11,"y":-1.5,"y2":-0.1},{"l":1,"x":12,"y":-1.5,"y2":-0.15},{"l":1,"x":12.08,"y":-1.5,"y2":-0.15},{"l":1,"x":12.1,"y":-0.84,"y2":-0.15},{"l":1,"x":13,"y":-0.74,"y2":-0.15},{"l":1,"x":15,"y":-0.79,"y2":-0.11},
{"l":2,"x":7,"y":-1.5,"y2":-1.5},{"l":2,"x":8.05,"y":-1.5,"y2":-1.07},{"l":2,"x":9,"y":-1.5,"y2":-0.55},{"l":2,"x":10,"y":-1.5,"y2":-0.63},{"l":2,"x":11,"y":-1.5,"y2":-0.45},{"l":2,"x":11.65,"y":-1.5,"y2":-0.5},{"l":2,"x":11.85,"y":-1.5,"y2":-1},{"l":2,"x":12,"y":-1.5,"y2":-1.5},
{"l":3,"x":7.25,"y":-1.5,"y2":-1.5},{"l":3,"x":8.2,"y":-1.5,"y2":-1.1},{"l":3,"x":9,"y":-1.5,"y2":-0.58},{"l":3,"x":10,"y":-1.5,"y2":-0.74},{"l":3,"x":11,"y":-1.5,"y2":-0.52},{"l":3,"x":11.5,"y":-1.5,"y2":-0.6},{"l":3,"x":11.65,"y":-1.5,"y2":-1},{"l":3,"x":11.9,"y":-1.5,"y2":-1.5},
{"l":4,"x":7.4,"y":-1.5,"y2":-1.5},{"l":4,"x":8.3,"y":-1.5,"y2":-1.17},{"l":4,"x":9,"y":-1.5,"y2":-0.6},{"l":4,"x":10,"y":-1.5,"y2":-0.85},{"l":4,"x":11,"y":-1.5,"y2":-0.6},{"l":4,"x":11.45,"y":-1.5,"y2":-0.85},{"l":4,"x":11.85,"y":-1.5,"y2":-1.5},
{"l":5,"x":7.55,"y":-1.5,"y2":-1.5},{"l":5,"x":9,"y":-1.5,"y2":-0.64},{"l":5,"x":9.65,"y":-1.5,"y2":-1},{"l":5,"x":10,"y":-1.5,"y2":-1.37},{"l":5,"x":10.4,"y":-1.5,"y2":-1.1},{"l":5,"x":11,"y":-1.5,"y2":-0.69},{"l":5,"x":11.35,"y":-1.5,"y2":-1},{"l":5,"x":11.8,"y":-1.5,"y2":-1.5},
{"l":6,"s":1,"x":7.6,"y":-1.5,"y2":-1.5},{"l":6,"s":1,"x":9,"y":-1.5,"y2":-0.67},{"l":6,"s":1,"x":9.6,"y":-1.5,"y2":-1},{"l":6,"s":1,"x":9.95,"y":-1.5,"y2":-1.42},{"l":6,"s":1,"x":10,"y":-1.5,"y2":-1.5},
{"l":6,"s":2,"x":10.1,"y":-1.5,"y2":-1.5},{"l":6,"s":2,"x":11,"y":-1.5,"y2":-0.88},{"l":6,"s":2,"x":11.33,"y":-1.5,"y2":-1.1},{"l":6,"s":2,"x":11.75,"y":-1.5,"y2":-1.5},
{"l":7,"s":1,"x":7.65,"y":-1.5,"y2":-1.5},{"l":7,"s":1,"x":8,"y":-1.5,"y2":-1.15},{"l":7,"s":1,"x":9,"y":-1.5,"y2":-0.7},{"l":7,"s":1,"x":9.55,"y":-1.5,"y2":-1},{"l":7,"s":1,"x":9.9,"y":-1.5,"y2":-1.4},{"l":7,"s":1,"x":9.95,"y":-1.5,"y2":-1.5},
{"l":7,"s":2,"x":10.15,"y":-1.5,"y2":-1.5},{"l":7,"s":2,"x":11,"y":-1.5,"y2":-0.98},{"l":7,"s":2,"x":11.72,"y":-1.5,"y2":-1.5},
{"l":8,"s":1,"x":8.65,"y":-1,"y2":-1},{"l":8,"s":1,"x":9,"y":-1.25,"y2":-0.75},{"l":8,"s":1,"x":9.35,"y":-1,"y2":-1},
{"l":8,"s":2,"x":10.2,"y":-1.5,"y2":-1.5},{"l":8,"s":2,"x":11,"y":-1.5,"y2":-1.04},{"l":8,"s":2,"x":11.7,"y":-1.5,"y2":-1.5},
{"l":8,"s":3,"x":7.65,"y":-1.5,"y2":-1.5},{"l":8,"s":3,"x":8,"y":-1.5,"y2":-1.22},{"l":8,"s":3,"x":8.55,"y":-1.5,"y2":-1.5},
{"l":9,"s":1,"x":8.72,"y":-1,"y2":-1},{"l":9,"s":1,"x":9,"y":-1.2,"y2":-0.8},{"l":9,"s":1,"x":9.3,"y":-1,"y2":-1},
{"l":9,"s":2,"x":10.25,"y":-1.5,"y2":-1.5},{"l":9,"s":2,"x":11,"y":-1.5,"y2":-1.08},{"l":9,"s":2,"x":11.65,"y":-1.5,"y2":-1.5},
{"l":9,"s":3,"x":7.7,"y":-1.5,"y2":-1.5},{"l":9,"s":3,"x":8,"y":-1.5,"y2":-1.27},{"l":9,"s":3,"x":8.5,"y":-1.5,"y2":-1.5}],
"P34":[{"l":1,"x":7.7,"y":-1,"y2":-1},{"l":1,"x":7.9,"y":-1.5,"y2":-0.85},{"l":1,"x":8,"y":-1.5,"y2":-0.8},{"l":1,"x":9,"y":-1.5,"y2":-0.58},{"l":1,"x":10,"y":-1.5,"y2":-0.05},{"l":1,"x":11,"y":-1.5,"y2":0.42},{"l":1,"x":12,"y":-1.5,"y2":0.47},{"l":1,"x":12.83,"y":-1.5,"y2":0.48},{"l":1,"x":12.87,"y":-0.52,"y2":0.48},{"l":1,"x":13,"y":-0.44,"y2":0.48},{"l":1,"x":14,"y":-0.72,"y2":0.48},{"l":1,"x":15,"y":-0.8,"y2":0.48},
{"l":2,"x":8.25,"y":-1,"y2":-1},{"l":2,"x":8.45,"y":-1.5,"y2":-0.87},{"l":2,"x":9,"y":-1.5,"y2":-0.63},{"l":2,"x":10,"y":-1.5,"y2":-0.1},{"l":2,"x":11,"y":-1.5,"y2":0.35},{"l":2,"x":12,"y":-1.5,"y2":0.4},{"l":2,"x":12.45,"y":-1.5,"y2":0.4},{"l":2,"x":12.5,"y":-0.5,"y2":0.4},{"l":2,"x":13,"y":-0.3,"y2":0.41},{"l":2,"x":14,"y":-0.56,"y2":0.41},{"l":2,"x":15,"y":-0.65,"y2":0.41},
{"l":3,"x":8.7,"y":-1,"y2":-1},{"l":3,"x":8.85,"y":-1.5,"y2":-0.88},{"l":3,"x":9,"y":-1.5,"y2":-0.78},{"l":3,"x":10,"y":-1.5,"y2":-0.21},{"l":3,"x":11,"y":-1.5,"y2":0.26},{"l":3,"x":12,"y":-1.5,"y2":0.33},{"l":3,"x":12.25,"y":-1.5,"y2":0.33},{"l":3,"x":12.27,"y":-0.6,"y2":0.33},{"l":3,"x":13,"y":-0.21,"y2":0.33},{"l":3,"x":14,"y":-0.43,"y2":0.33},{"l":3,"x":15,"y":-0.5,"y2":0.33},
{"l":4,"x":9.1,"y":-1,"y2":-1},{"l":4,"x":9.25,"y":-1.5,"y2":-0.8},{"l":4,"x":10,"y":-1.5,"y2":-0.3},{"l":4,"x":11,"y":-1.5,"y2":0.17},{"l":4,"x":11.93,"y":-1.5,"y2":0.26},{"l":4,"x":11.97,"y":-0.21,"y2":0.26},{"l":4,"x":13,"y":-0.12,"y2":0.26},{"l":4,"x":14,"y":-0.27,"y2":0.25},{"l":4,"x":15,"y":-0.38,"y2":0.24},
{"l":5,"x":9.5,"y":-1,"y2":-1},{"l":5,"x":9.8,"y":-1.5,"y2":-0.7},{"l":5,"x":10,"y":-1.5,"y2":-0.5},{"l":5,"x":11,"y":-1.5,"y2":0.05},{"l":5,"x":11.55,"y":-1.5,"y2":0.08},{"l":5,"x":11.6,"y":-0.2,"y2":0.08},{"l":5,"x":12,"y":-0.09,"y2":0.1},{"l":5,"x":13,"y":-0.05,"y2":0.15},{"l":5,"x":14,"y":-0.1,"y2":0.16},{"l":5,"x":15,"y":-0.16,"y2":0.16},
{"l":6,"s":1,"x":10.55,"y":-1.5,"y2":-1},{"l":6,"s":1,"x":10.75,"y":-1.5,"y2":-0.5},{"l":6,"s":1,"x":11,"y":-1.5,"y2":-0.1},{"l":6,"s":1,"x":11.3,"y":-1.5,"y2":-0.5},{"l":6,"s":1,"x":11.4,"y":-1.5,"y2":-1.5},
{"l":6,"s":2,"x":13.4,"y":0,"y2":0},{"l":6,"s":2,"x":14,"y":-0.03,"y2":0.05},{"l":6,"s":2,"x":14.6,"y":0,"y2":0},
{"l":7,"x":10.5,"y":-0.5,"y2":-0.5},{"l":7,"x":11,"y":-0.93,"y2":-0.21},{"l":7,"x":11.45,"y":-0.5,"y2":-0.5},
{"l":8,"x":10.75,"y":-0.5,"y2":-0.5},{"l":8,"x":11,"y":-0.67,"y2":-0.35},{"l":8,"x":11.2,"y":-0.5,"y2":-0.5}]
},
"bounds":"flush","spacing":172,
"vconcat":[
{"hconcat":[
{"width":180,"height":28,"title":{"text":"of rated torque","orient":"bottom","fontSize":18.5,"offset":6},"layer":[
{"data":{"name":"cb"},"mark":"rect","encoding":{"x":{"field":"f","type":"quantitative","scale":{"domain":[0,9],"nice":false},"axis":{"orient":"top","values":[0,4.5,9],"labelOverlap":false,"labelPadding":7,"labelExpr":"datum.value==0?'0%':datum.value==9?'30%':'15%'","title":null,"tickSize":10,"tickWidth":1.5,"domain":false}},"x2":{"field":"g"},"color":{"field":"l","type":"ordinal","scale":{"domain":[0,1,2,3,4,5,6,7,8,9],"range":["#4a1a67","#463c80","#3b5b8b","#2e738d","#22908c","#25ab81","#50c46a","#91d743","#e0e318","#fde725"]},"legend":null}}},
{"data":{"name":"ct"},"mark":{"type":"area","orient":"vertical","color":"#fde725"},"encoding":{"x":{"field":"x","type":"quantitative"},"y":{"field":"y","type":"quantitative","scale":{"domain":[0,1]},"axis":null},"y2":{"field":"y2"}}},
{"data":{"name":"co"},"mark":{"type":"line","color":"black","strokeWidth":2},"encoding":{"x":{"field":"x","type":"quantitative"},"y":{"field":"y","type":"quantitative","axis":null},"order":{"field":"o"}}}]},
{"width":180,"height":28,"title":{"text":"of rated thrust","orient":"bottom","fontSize":18.5,"offset":6},"layer":[
{"data":{"name":"cb"},"mark":"rect","encoding":{"x":{"field":"f","type":"quantitative","scale":{"domain":[0,9],"nice":false},"axis":{"orient":"top","values":[0,4.5,9],"labelOverlap":false,"labelPadding":7,"labelExpr":"datum.value==0?'0%':datum.value==9?'40%':'20%'","title":null,"tickSize":10,"tickWidth":1.5,"domain":false}},"x2":{"field":"g"},"color":{"field":"l","type":"ordinal","scale":{"domain":[0,1,2,3,4,5,6,7,8,9],"range":["#4a1a67","#463c80","#3b5b8b","#2e738d","#22908c","#25ab81","#50c46a","#91d743","#e0e318","#fde725"]},"legend":null}}},
{"data":{"name":"ct"},"mark":{"type":"area","orient":"vertical","color":"#fde725"},"encoding":{"x":{"field":"x","type":"quantitative"},"y":{"field":"y","type":"quantitative","scale":{"domain":[0,1]},"axis":null},"y2":{"field":"y2"}}},
{"data":{"name":"co"},"mark":{"type":"line","color":"black","strokeWidth":2},"encoding":{"x":{"field":"x","type":"quantitative"},"y":{"field":"y","type":"quantitative","axis":null},"order":{"field":"o"}}}]},
{"width":180,"height":28,"title":{"text":"of rated speed","orient":"bottom","fontSize":18.5,"offset":6},"layer":[
{"data":{"name":"cb"},"mark":"rect","encoding":{"x":{"field":"f","type":"quantitative","scale":{"domain":[0,9],"nice":false},"axis":{"orient":"top","values":[0,4.5,9],"labelOverlap":false,"labelPadding":7,"labelExpr":"datum.value==0?'0%':datum.value==9?'40%':'20%'","title":null,"tickSize":10,"tickWidth":1.5,"domain":false}},"x2":{"field":"g"},"color":{"field":"l","type":"ordinal","scale":{"domain":[0,1,2,3,4,5,6,7,8,9],"range":["#4a1a67","#463c80","#3b5b8b","#2e738d","#22908c","#25ab81","#50c46a","#91d743","#e0e318","#fde725"]},"legend":null}}},
{"data":{"name":"ct"},"mark":{"type":"area","orient":"vertical","color":"#fde725"},"encoding":{"x":{"field":"x","type":"quantitative"},"y":{"field":"y","type":"quantitative","scale":{"domain":[0,1]},"axis":null},"y2":{"field":"y2"}}},
{"data":{"name":"co"},"mark":{"type":"line","color":"black","strokeWidth":2},"encoding":{"x":{"field":"x","type":"quantitative"},"y":{"field":"y","type":"quantitative","axis":null},"order":{"field":"o"}}}]},
{"width":180,"height":28,"title":{"text":"of cut-out pitch","orient":"bottom","fontSize":18.5,"offset":6},"layer":[
{"data":{"name":"cb"},"mark":"rect","encoding":{"x":{"field":"f","type":"quantitative","scale":{"domain":[0,9],"nice":false},"axis":{"orient":"top","values":[0,4.5,9],"labelOverlap":false,"labelPadding":7,"labelExpr":"datum.value==0?'0%':datum.value==9?'30%':'15%'","title":null,"tickSize":10,"tickWidth":1.5,"domain":false}},"x2":{"field":"g"},"color":{"field":"l","type":"ordinal","scale":{"domain":[0,1,2,3,4,5,6,7,8,9],"range":["#4a1a67","#463c80","#3b5b8b","#2e738d","#22908c","#25ab81","#50c46a","#91d743","#e0e318","#fde725"]},"legend":null}}},
{"data":{"name":"ct"},"mark":{"type":"area","orient":"vertical","color":"#fde725"},"encoding":{"x":{"field":"x","type":"quantitative"},"y":{"field":"y","type":"quantitative","scale":{"domain":[0,1]},"axis":null},"y2":{"field":"y2"}}},
{"data":{"name":"co"},"mark":{"type":"line","color":"black","strokeWidth":2},"encoding":{"x":{"field":"x","type":"quantitative"},"y":{"field":"y","type":"quantitative","axis":null},"order":{"field":"o"}}}]}
],"spacing":45.5,"bounds":"flush"},
{"bounds":"flush","spacing":220,"vconcat":[
{"bounds":"flush","spacing":35.5,"hconcat":[
{"width":190,"height":184,"title":{"text":"Rotor torque","offset":2},"encoding":{"x":{"field":"x","type":"quantitative","scale":{"domain":[6,15],"nice":false,"zero":false},"axis":{"values":[6,8,10,12,14],"labels":false,"title":null,"tickSize":7,"tickWidth":2,"labelOverlap":false}},"y":{"field":"y","type":"quantitative","scale":{"domain":[-1.5,0.5],"nice":false,"zero":false},"axis":{"values":[0.5,0.477,0.301,0,-0.046,-0.097,-0.155,-0.222,-0.301,-0.398,-0.5,-0.523,-0.699,-1,-1.046,-1.097,-1.155,-1.222,-1.301,-1.398],"labelOverlap":false,"labelExpr":"datum.value==0.5?'3.2':datum.value==0?'1.0':datum.value==-0.5?'0.3':datum.value==-1?'0.1':''","title":null,"tickSize":{"condition":{"test":"datum.value==0.5||datum.value==0||datum.value==-0.5||datum.value==-1","value":7},"value":4},"tickWidth":{"condition":{"test":"datum.value==0.5||datum.value==0||datum.value==-0.5||datum.value==-1","value":2},"value":1.3}}}},"layer":[{"data":{"name":"P11"},"mark":{"type":"area","orient":"vertical"},"encoding":{"y2":{"field":"y2"},"color":{"field":"l","type":"ordinal","scale":{"domain":[1,2,3,4,5,6,7,8,9],"range":["#463c80","#3b5b8b","#2e738d","#22908c","#25ab81","#50c46a","#91d743","#e0e318","#fde725"]},"legend":null},"detail":{"field":"s"}}},{"data":{"name":"r"},"mark":{"type":"rule","color":"white","opacity":0.65,"strokeWidth":3.5},"encoding":{"y2":{"field":"y2"}}},{"data":{"name":"f"},"mark":{"type":"rect","filled":false,"stroke":"black","strokeWidth":2},"encoding":{"x2":{"field":"x2"},"y2":{"field":"y2"}}},{"data":{"name":"d1"},"mark":{"type":"point","filled":true,"fill":"#ff0000","stroke":"white","strokeWidth":2.5,"size":123,"opacity":1}}]},
{"width":190,"height":184,"title":"Rotor thrust","encoding":{"x":{"field":"x","type":"quantitative","scale":{"domain":[6,15],"nice":false,"zero":false},"axis":{"values":[6,8,10,12,14],"labels":false,"title":null,"tickSize":7,"tickWidth":2,"labelOverlap":false}},"y":{"field":"y","type":"quantitative","scale":{"domain":[-1.5,0.5],"nice":false,"zero":false},"axis":{"values":[0.5,0.477,0.301,0,-0.046,-0.097,-0.155,-0.222,-0.301,-0.398,-0.5,-0.523,-0.699,-1,-1.046,-1.097,-1.155,-1.222,-1.301,-1.398],"labels":false,"labelOverlap":false,"title":null,"tickSize":{"condition":{"test":"datum.value==0.5||datum.value==0||datum.value==-0.5||datum.value==-1","value":7},"value":4},"tickWidth":{"condition":{"test":"datum.value==0.5||datum.value==0||datum.value==-0.5||datum.value==-1","value":2},"value":1.3}}}},"layer":[{"data":{"name":"P12"},"mark":{"type":"area","orient":"vertical"},"encoding":{"y2":{"field":"y2"},"color":{"field":"l","type":"ordinal","scale":{"domain":[1,2,3,4,5,6,7,8,9],"range":["#463c80","#3b5b8b","#2e738d","#22908c","#25ab81","#50c46a","#91d743","#e0e318","#fde725"]},"legend":null},"detail":{"field":"s"}}},{"data":{"name":"r"},"mark":{"type":"rule","color":"white","opacity":0.65,"strokeWidth":3.5},"encoding":{"y2":{"field":"y2"}}},{"data":{"name":"f"},"mark":{"type":"rect","filled":false,"stroke":"black","strokeWidth":2},"encoding":{"x2":{"field":"x2"},"y2":{"field":"y2"}}},{"data":{"name":"d1"},"mark":{"type":"point","filled":true,"fill":"#ff0000","stroke":"white","strokeWidth":2.5,"size":123,"opacity":1}}]},
{"width":190,"height":184,"title":"Rotor speed","encoding":{"x":{"field":"x","type":"quantitative","scale":{"domain":[6,15],"nice":false,"zero":false},"axis":{"values":[6,8,10,12,14],"labels":false,"title":null,"tickSize":7,"tickWidth":2,"labelOverlap":false}},"y":{"field":"y","type":"quantitative","scale":{"domain":[-1.5,0.5],"nice":false,"zero":false},"axis":{"values":[0.5,0.477,0.301,0,-0.046,-0.097,-0.155,-0.222,-0.301,-0.398,-0.5,-0.523,-0.699,-1,-1.046,-1.097,-1.155,-1.222,-1.301,-1.398],"labels":false,"labelOverlap":false,"title":null,"tickSize":{"condition":{"test":"datum.value==0.5||datum.value==0||datum.value==-0.5||datum.value==-1","value":7},"value":4},"tickWidth":{"condition":{"test":"datum.value==0.5||datum.value==0||datum.value==-0.5||datum.value==-1","value":2},"value":1.3}}}},"layer":[{"data":{"name":"P13"},"mark":{"type":"area","orient":"vertical"},"encoding":{"y2":{"field":"y2"},"color":{"field":"l","type":"ordinal","scale":{"domain":[1,2,3,4,5,6,7,8,9],"range":["#463c80","#3b5b8b","#2e738d","#22908c","#25ab81","#50c46a","#91d743","#e0e318","#fde725"]},"legend":null},"detail":{"field":"s"}}},{"data":{"name":"r"},"mark":{"type":"rule","color":"white","opacity":0.65,"strokeWidth":3.5},"encoding":{"y2":{"field":"y2"}}},{"data":{"name":"f"},"mark":{"type":"rect","filled":false,"stroke":"black","strokeWidth":2},"encoding":{"x2":{"field":"x2"},"y2":{"field":"y2"}}},{"data":{"name":"d1"},"mark":{"type":"point","filled":true,"fill":"#ff0000","stroke":"white","strokeWidth":2.5,"size":123,"opacity":1}}]},
{"width":190,"height":184,"title":"Pitch angle","encoding":{"x":{"field":"x","type":"quantitative","scale":{"domain":[6,15],"nice":false,"zero":false},"axis":{"values":[6,8,10,12,14],"labels":false,"title":null,"tickSize":7,"tickWidth":2,"labelOverlap":false}},"y":{"field":"y","type":"quantitative","scale":{"domain":[-1.5,0.5],"nice":false,"zero":false},"axis":{"values":[0.5,0.477,0.301,0,-0.046,-0.097,-0.155,-0.222,-0.301,-0.398,-0.5,-0.523,-0.699,-1,-1.046,-1.097,-1.155,-1.222,-1.301,-1.398],"labels":false,"labelOverlap":false,"title":null,"tickSize":{"condition":{"test":"datum.value==0.5||datum.value==0||datum.value==-0.5||datum.value==-1","value":7},"value":4},"tickWidth":{"condition":{"test":"datum.value==0.5||datum.value==0||datum.value==-0.5||datum.value==-1","value":2},"value":1.3}}}},"layer":[{"data":{"name":"P14"},"mark":{"type":"area","orient":"vertical"},"encoding":{"y2":{"field":"y2"},"color":{"field":"l","type":"ordinal","scale":{"domain":[1,2,3,4,5,6,7,8,9],"range":["#463c80","#3b5b8b","#2e738d","#22908c","#25ab81","#50c46a","#91d743","#e0e318","#fde725"]},"legend":null},"detail":{"field":"s"}}},{"data":{"name":"r"},"mark":{"type":"rule","color":"white","opacity":0.65,"strokeWidth":3.5},"encoding":{"y2":{"field":"y2"}}},{"data":{"name":"f"},"mark":{"type":"rect","filled":false,"stroke":"black","strokeWidth":2},"encoding":{"x2":{"field":"x2"},"y2":{"field":"y2"}}},{"data":{"name":"d1"},"mark":{"type":"point","filled":true,"fill":"#ff0000","stroke":"white","strokeWidth":2.5,"size":123,"opacity":1}},{"data":{"name":"a1"},"mark":{"type":"text","align":"left","baseline":"middle","fontSize":23.5,"lineHeight":30,"color":"black"},"encoding":{"text":{"field":"t"}}}]}
]},
{"bounds":"flush","spacing":35.5,"hconcat":[
{"width":190,"height":184,"encoding":{"x":{"field":"x","type":"quantitative","scale":{"domain":[6,15],"nice":false,"zero":false},"axis":{"values":[6,8,10,12,14],"labels":false,"title":null,"tickSize":7,"tickWidth":2,"labelOverlap":false}},"y":{"field":"y","type":"quantitative","scale":{"domain":[-1.5,0.5],"nice":false,"zero":false},"axis":{"values":[0.5,0.477,0.301,0,-0.046,-0.097,-0.155,-0.222,-0.301,-0.398,-0.5,-0.523,-0.699,-1,-1.046,-1.097,-1.155,-1.222,-1.301,-1.398],"labelOverlap":false,"labelExpr":"datum.value==0.5?'3.2':datum.value==0?'1.0':datum.value==-0.5?'0.3':datum.value==-1?'0.1':''","title":"Wind variation frequency [rad/s]","titlePadding":21,"tickSize":{"condition":{"test":"datum.value==0.5||datum.value==0||datum.value==-0.5||datum.value==-1","value":7},"value":4},"tickWidth":{"condition":{"test":"datum.value==0.5||datum.value==0||datum.value==-0.5||datum.value==-1","value":2},"value":1.3}}}},"layer":[{"data":{"name":"P21"},"mark":{"type":"area","orient":"vertical"},"encoding":{"y2":{"field":"y2"},"color":{"field":"l","type":"ordinal","scale":{"domain":[1,2,3,4,5,6,7,8,9],"range":["#463c80","#3b5b8b","#2e738d","#22908c","#25ab81","#50c46a","#91d743","#e0e318","#fde725"]},"legend":null},"detail":{"field":"s"}}},{"data":{"name":"r"},"mark":{"type":"rule","color":"white","opacity":0.65,"strokeWidth":3.5},"encoding":{"y2":{"field":"y2"}}},{"data":{"name":"f"},"mark":{"type":"rect","filled":false,"stroke":"black","strokeWidth":2},"encoding":{"x2":{"field":"x2"},"y2":{"field":"y2"}}},{"data":{"name":"d2"},"mark":{"type":"point","filled":true,"fill":"#ff0000","stroke":"white","strokeWidth":2.5,"size":123,"opacity":1}}]},
{"width":190,"height":184,"encoding":{"x":{"field":"x","type":"quantitative","scale":{"domain":[6,15],"nice":false,"zero":false},"axis":{"values":[6,8,10,12,14],"labels":false,"title":null,"tickSize":7,"tickWidth":2,"labelOverlap":false}},"y":{"field":"y","type":"quantitative","scale":{"domain":[-1.5,0.5],"nice":false,"zero":false},"axis":{"values":[0.5,0.477,0.301,0,-0.046,-0.097,-0.155,-0.222,-0.301,-0.398,-0.5,-0.523,-0.699,-1,-1.046,-1.097,-1.155,-1.222,-1.301,-1.398],"labels":false,"labelOverlap":false,"title":null,"tickSize":{"condition":{"test":"datum.value==0.5||datum.value==0||datum.value==-0.5||datum.value==-1","value":7},"value":4},"tickWidth":{"condition":{"test":"datum.value==0.5||datum.value==0||datum.value==-0.5||datum.value==-1","value":2},"value":1.3}}}},"layer":[{"data":{"name":"P22"},"mark":{"type":"area","orient":"vertical"},"encoding":{"y2":{"field":"y2"},"color":{"field":"l","type":"ordinal","scale":{"domain":[1,2,3,4,5,6,7,8,9],"range":["#463c80","#3b5b8b","#2e738d","#22908c","#25ab81","#50c46a","#91d743","#e0e318","#fde725"]},"legend":null},"detail":{"field":"s"}}},{"data":{"name":"r"},"mark":{"type":"rule","color":"white","opacity":0.65,"strokeWidth":3.5},"encoding":{"y2":{"field":"y2"}}},{"data":{"name":"f"},"mark":{"type":"rect","filled":false,"stroke":"black","strokeWidth":2},"encoding":{"x2":{"field":"x2"},"y2":{"field":"y2"}}},{"data":{"name":"d2"},"mark":{"type":"point","filled":true,"fill":"#ff0000","stroke":"white","strokeWidth":2.5,"size":123,"opacity":1}}]},
{"width":190,"height":184,"encoding":{"x":{"field":"x","type":"quantitative","scale":{"domain":[6,15],"nice":false,"zero":false},"axis":{"values":[6,8,10,12,14],"labels":false,"title":null,"tickSize":7,"tickWidth":2,"labelOverlap":false}},"y":{"field":"y","type":"quantitative","scale":{"domain":[-1.5,0.5],"nice":false,"zero":false},"axis":{"values":[0.5,0.477,0.301,0,-0.046,-0.097,-0.155,-0.222,-0.301,-0.398,-0.5,-0.523,-0.699,-1,-1.046,-1.097,-1.155,-1.222,-1.301,-1.398],"labels":false,"labelOverlap":false,"title":null,"tickSize":{"condition":{"test":"datum.value==0.5||datum.value==0||datum.value==-0.5||datum.value==-1","value":7},"value":4},"tickWidth":{"condition":{"test":"datum.value==0.5||datum.value==0||datum.value==-0.5||datum.value==-1","value":2},"value":1.3}}}},"layer":[{"data":{"name":"P23"},"mark":{"type":"area","orient":"vertical"},"encoding":{"y2":{"field":"y2"},"color":{"field":"l","type":"ordinal","scale":{"domain":[1,2,3,4,5,6,7,8,9],"range":["#463c80","#3b5b8b","#2e738d","#22908c","#25ab81","#50c46a","#91d743","#e0e318","#fde725"]},"legend":null},"detail":{"field":"s"}}},{"data":{"name":"r"},"mark":{"type":"rule","color":"white","opacity":0.65,"strokeWidth":3.5},"encoding":{"y2":{"field":"y2"}}},{"data":{"name":"f"},"mark":{"type":"rect","filled":false,"stroke":"black","strokeWidth":2},"encoding":{"x2":{"field":"x2"},"y2":{"field":"y2"}}},{"data":{"name":"d2"},"mark":{"type":"point","filled":true,"fill":"#ff0000","stroke":"white","strokeWidth":2.5,"size":123,"opacity":1}}]},
{"width":190,"height":184,"encoding":{"x":{"field":"x","type":"quantitative","scale":{"domain":[6,15],"nice":false,"zero":false},"axis":{"values":[6,8,10,12,14],"labels":false,"title":null,"tickSize":7,"tickWidth":2,"labelOverlap":false}},"y":{"field":"y","type":"quantitative","scale":{"domain":[-1.5,0.5],"nice":false,"zero":false},"axis":{"values":[0.5,0.477,0.301,0,-0.046,-0.097,-0.155,-0.222,-0.301,-0.398,-0.5,-0.523,-0.699,-1,-1.046,-1.097,-1.155,-1.222,-1.301,-1.398],"labels":false,"labelOverlap":false,"title":null,"tickSize":{"condition":{"test":"datum.value==0.5||datum.value==0||datum.value==-0.5||datum.value==-1","value":7},"value":4},"tickWidth":{"condition":{"test":"datum.value==0.5||datum.value==0||datum.value==-0.5||datum.value==-1","value":2},"value":1.3}}}},"layer":[{"data":{"name":"P24"},"mark":{"type":"area","orient":"vertical"},"encoding":{"y2":{"field":"y2"},"color":{"field":"l","type":"ordinal","scale":{"domain":[1,2,3,4,5,6,7,8,9],"range":["#463c80","#3b5b8b","#2e738d","#22908c","#25ab81","#50c46a","#91d743","#e0e318","#fde725"]},"legend":null},"detail":{"field":"s"}}},{"data":{"name":"r"},"mark":{"type":"rule","color":"white","opacity":0.65,"strokeWidth":3.5},"encoding":{"y2":{"field":"y2"}}},{"data":{"name":"f"},"mark":{"type":"rect","filled":false,"stroke":"black","strokeWidth":2},"encoding":{"x2":{"field":"x2"},"y2":{"field":"y2"}}},{"data":{"name":"d2"},"mark":{"type":"point","filled":true,"fill":"#ff0000","stroke":"white","strokeWidth":2.5,"size":123,"opacity":1}},{"data":{"name":"a2"},"mark":{"type":"text","align":"left","baseline":"middle","fontSize":23.5,"lineHeight":30,"color":"black"},"encoding":{"text":{"field":"t"}}}]}
]},
{"bounds":"flush","spacing":35.5,"hconcat":[
{"width":190,"height":184,"encoding":{"x":{"field":"x","type":"quantitative","scale":{"domain":[6,15],"nice":false,"zero":false},"axis":{"values":[6,8,10,12,14],"title":null,"tickSize":7,"tickWidth":2,"labelOverlap":false}},"y":{"field":"y","type":"quantitative","scale":{"domain":[-1.5,0.5],"nice":false,"zero":false},"axis":{"values":[0.5,0.477,0.301,0,-0.046,-0.097,-0.155,-0.222,-0.301,-0.398,-0.5,-0.523,-0.699,-1,-1.046,-1.097,-1.155,-1.222,-1.301,-1.398],"labelOverlap":false,"labelExpr":"datum.value==0.5?'3.2':datum.value==0?'1.0':datum.value==-0.5?'0.3':datum.value==-1?'0.1':''","title":null,"tickSize":{"condition":{"test":"datum.value==0.5||datum.value==0||datum.value==-0.5||datum.value==-1","value":7},"value":4},"tickWidth":{"condition":{"test":"datum.value==0.5||datum.value==0||datum.value==-0.5||datum.value==-1","value":2},"value":1.3}}}},"layer":[{"data":{"name":"P31"},"mark":{"type":"area","orient":"vertical"},"encoding":{"y2":{"field":"y2"},"color":{"field":"l","type":"ordinal","scale":{"domain":[1,2,3,4,5,6,7,8,9],"range":["#463c80","#3b5b8b","#2e738d","#22908c","#25ab81","#50c46a","#91d743","#e0e318","#fde725"]},"legend":null},"detail":{"field":"s"}}},{"data":{"name":"r"},"mark":{"type":"rule","color":"white","opacity":0.65,"strokeWidth":3.5},"encoding":{"y2":{"field":"y2"}}},{"data":{"name":"f"},"mark":{"type":"rect","filled":false,"stroke":"black","strokeWidth":2},"encoding":{"x2":{"field":"x2"},"y2":{"field":"y2"}}},{"data":{"name":"d3"},"mark":{"type":"point","filled":true,"fill":"#ff0000","stroke":"white","strokeWidth":2.5,"size":123,"opacity":1}}]},
{"width":190,"height":184,"encoding":{"x":{"field":"x","type":"quantitative","scale":{"domain":[6,15],"nice":false,"zero":false},"axis":{"values":[6,8,10,12,14],"title":"Mean wind speed [m/s]","titleX":208,"titleY":50,"titleAnchor":"middle","tickSize":7,"tickWidth":2,"labelOverlap":false}},"y":{"field":"y","type":"quantitative","scale":{"domain":[-1.5,0.5],"nice":false,"zero":false},"axis":{"values":[0.5,0.477,0.301,0,-0.046,-0.097,-0.155,-0.222,-0.301,-0.398,-0.5,-0.523,-0.699,-1,-1.046,-1.097,-1.155,-1.222,-1.301,-1.398],"labels":false,"labelOverlap":false,"title":null,"tickSize":{"condition":{"test":"datum.value==0.5||datum.value==0||datum.value==-0.5||datum.value==-1","value":7},"value":4},"tickWidth":{"condition":{"test":"datum.value==0.5||datum.value==0||datum.value==-0.5||datum.value==-1","value":2},"value":1.3}}}},"layer":[{"data":{"name":"P32"},"mark":{"type":"area","orient":"vertical"},"encoding":{"y2":{"field":"y2"},"color":{"field":"l","type":"ordinal","scale":{"domain":[1,2,3,4,5,6,7,8,9],"range":["#463c80","#3b5b8b","#2e738d","#22908c","#25ab81","#50c46a","#91d743","#e0e318","#fde725"]},"legend":null},"detail":{"field":"s"}}},{"data":{"name":"r"},"mark":{"type":"rule","color":"white","opacity":0.65,"strokeWidth":3.5},"encoding":{"y2":{"field":"y2"}}},{"data":{"name":"f"},"mark":{"type":"rect","filled":false,"stroke":"black","strokeWidth":2},"encoding":{"x2":{"field":"x2"},"y2":{"field":"y2"}}},{"data":{"name":"d3"},"mark":{"type":"point","filled":true,"fill":"#ff0000","stroke":"white","strokeWidth":2.5,"size":123,"opacity":1}}]},
{"width":190,"height":184,"encoding":{"x":{"field":"x","type":"quantitative","scale":{"domain":[6,15],"nice":false,"zero":false},"axis":{"values":[6,8,10,12,14],"title":null,"tickSize":7,"tickWidth":2,"labelOverlap":false}},"y":{"field":"y","type":"quantitative","scale":{"domain":[-1.5,0.5],"nice":false,"zero":false},"axis":{"values":[0.5,0.477,0.301,0,-0.046,-0.097,-0.155,-0.222,-0.301,-0.398,-0.5,-0.523,-0.699,-1,-1.046,-1.097,-1.155,-1.222,-1.301,-1.398],"labels":false,"labelOverlap":false,"title":null,"tickSize":{"condition":{"test":"datum.value==0.5||datum.value==0||datum.value==-0.5||datum.value==-1","value":7},"value":4},"tickWidth":{"condition":{"test":"datum.value==0.5||datum.value==0||datum.value==-0.5||datum.value==-1","value":2},"value":1.3}}}},"layer":[{"data":{"name":"P33"},"mark":{"type":"area","orient":"vertical"},"encoding":{"y2":{"field":"y2"},"color":{"field":"l","type":"ordinal","scale":{"domain":[1,2,3,4,5,6,7,8,9],"range":["#463c80","#3b5b8b","#2e738d","#22908c","#25ab81","#50c46a","#91d743","#e0e318","#fde725"]},"legend":null},"detail":{"field":"s"}}},{"data":{"name":"r"},"mark":{"type":"rule","color":"white","opacity":0.65,"strokeWidth":3.5},"encoding":{"y2":{"field":"y2"}}},{"data":{"name":"f"},"mark":{"type":"rect","filled":false,"stroke":"black","strokeWidth":2},"encoding":{"x2":{"field":"x2"},"y2":{"field":"y2"}}},{"data":{"name":"d3"},"mark":{"type":"point","filled":true,"fill":"#ff0000","stroke":"white","strokeWidth":2.5,"size":123,"opacity":1}}]},
{"width":190,"height":184,"encoding":{"x":{"field":"x","type":"quantitative","scale":{"domain":[6,15],"nice":false,"zero":false},"axis":{"values":[6,8,10,12,14],"title":null,"tickSize":7,"tickWidth":2,"labelOverlap":false}},"y":{"field":"y","type":"quantitative","scale":{"domain":[-1.5,0.5],"nice":false,"zero":false},"axis":{"values":[0.5,0.477,0.301,0,-0.046,-0.097,-0.155,-0.222,-0.301,-0.398,-0.5,-0.523,-0.699,-1,-1.046,-1.097,-1.155,-1.222,-1.301,-1.398],"labels":false,"labelOverlap":false,"title":null,"tickSize":{"condition":{"test":"datum.value==0.5||datum.value==0||datum.value==-0.5||datum.value==-1","value":7},"value":4},"tickWidth":{"condition":{"test":"datum.value==0.5||datum.value==0||datum.value==-0.5||datum.value==-1","value":2},"value":1.3}}}},"layer":[{"data":{"name":"P34"},"mark":{"type":"area","orient":"vertical"},"encoding":{"y2":{"field":"y2"},"color":{"field":"l","type":"ordinal","scale":{"domain":[1,2,3,4,5,6,7,8,9],"range":["#463c80","#3b5b8b","#2e738d","#22908c","#25ab81","#50c46a","#91d743","#e0e318","#fde725"]},"legend":null},"detail":{"field":"s"}}},{"data":{"name":"r"},"mark":{"type":"rule","color":"white","opacity":0.65,"strokeWidth":3.5},"encoding":{"y2":{"field":"y2"}}},{"data":{"name":"f"},"mark":{"type":"rect","filled":false,"stroke":"black","strokeWidth":2},"encoding":{"x2":{"field":"x2"},"y2":{"field":"y2"}}},{"data":{"name":"d3"},"mark":{"type":"point","filled":true,"fill":"#ff0000","stroke":"white","strokeWidth":2.5,"size":123,"opacity":1}},{"data":{"name":"a3"},"mark":{"type":"text","align":"left","baseline":"middle","fontSize":23.5,"lineHeight":30,"color":"black"},"encoding":{"text":{"field":"t"}}}]}
]}
]}
]}
